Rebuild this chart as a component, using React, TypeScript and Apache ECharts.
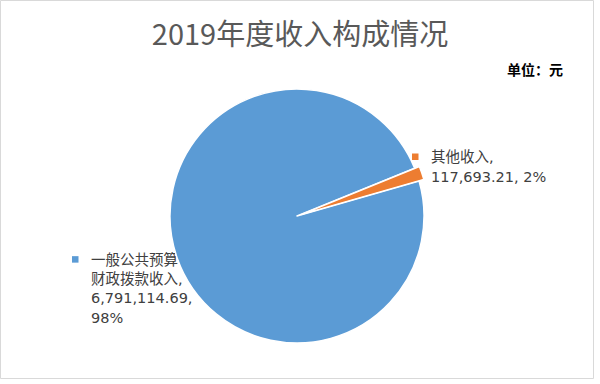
import React, { useEffect, useRef } from "react";
import * as echarts from "echarts";

const titleText = "2019年度收入构成情况";
const unitText = "单位：元";
const categories = ["一般公共预算财政拨款收入", "其他收入"];
const labelNames = [["一般公共预算", "财政拨款收入,"], ["其他收入,"]];
const values = [6791114.69, 117693.21];
const colors = ["#5B9BD5", "#ED7D31"];

function fmt(v: number): string {
  return v.toLocaleString("en-US", { minimumFractionDigits: 2, maximumFractionDigits: 2 });
}

export default function App() {
  const ref = useRef<HTMLDivElement>(null);
  useEffect(() => {
    document.body.style.margin = "0";
    const chart = echarts.init(ref.current!, null, { renderer: "svg" });
    const font = "'Noto Sans CJK SC', 'Microsoft YaHei', sans-serif";
    const labelFont = "'DejaVu Sans', 'Noto Sans CJK SC', sans-serif";
    const total = values.reduce((a, b) => a + b, 0);
    const pct = values.map((v) => Math.round((v / total) * 100));
    const labelLines: string[][] = [
      [...labelNames[0], fmt(values[0]) + ",", pct[0] + "%"],
      [...labelNames[1], fmt(values[1]) + ", " + pct[1] + "%"],
    ];
    // label anchor boxes (marker left, first-line top) and line heights
    const labelBoxes = [
      { x: 72, y: 250, lh: 19.3 },
      { x: 412, y: 147, lh: 20 },
    ];
    const labelGraphics: any[] = [];
    labelBoxes.forEach((b, i) => {
      labelGraphics.push({
        type: "rect",
        shape: { x: b.x, y: b.y + b.lh / 2 - 3.5, width: 6.5, height: 6.5 },
        style: { fill: colors[i] },
        silent: true,
      });
      labelGraphics.push({
        type: "text",
        x: b.x + 19,
        y: b.y,
        style: {
          text: labelLines[i].join("\n"),
          fill: "#404040",
          font: "14.5px " + labelFont,
          lineHeight: b.lh,
          verticalAlign: "top",
          align: "left",
        },
      });
    });
    chart.setOption({
      animation: false,
      backgroundColor: "#ffffff",
      title: {
        text: titleText,
        left: "center",
        top: 12,
        textStyle: { fontSize: 29, fontWeight: "normal", color: "#595959", fontFamily: font },
      },
      graphic: [
        {
          type: "rect",
          shape: { x: 0.5, y: 0.5, width: 593, height: 378 },
          style: { fill: "none", stroke: "#d9d9d9", lineWidth: 1 },
          silent: true,
        },
        {
          type: "text",
          x: 507,
          y: 69,
          style: {
            text: unitText,
            fill: "#000000",
            font: "bold 14px " + font,
            verticalAlign: "middle",
          },
        },
        ...labelGraphics,
      ],
      series: [
        {
          type: "pie",
          center: [297, 216],
          radius: 127,
          startAngle: 16,
          clockwise: true,
          selectedMode: "single",
          selectedOffset: 5,
          itemStyle: { borderColor: "#ffffff", borderWidth: 1.5 },
          labelLine: { show: false },
          label: { show: false },
          data: categories.map((name, i) => ({
            name,
            value: values[i],
            selected: i === 1,
            itemStyle: { color: colors[i] },
          })),
        },
      ],
    });
    return () => chart.dispose();
  }, []);
  return <div ref={ref} style={{ width: 600, height: 384 }} />;
}
